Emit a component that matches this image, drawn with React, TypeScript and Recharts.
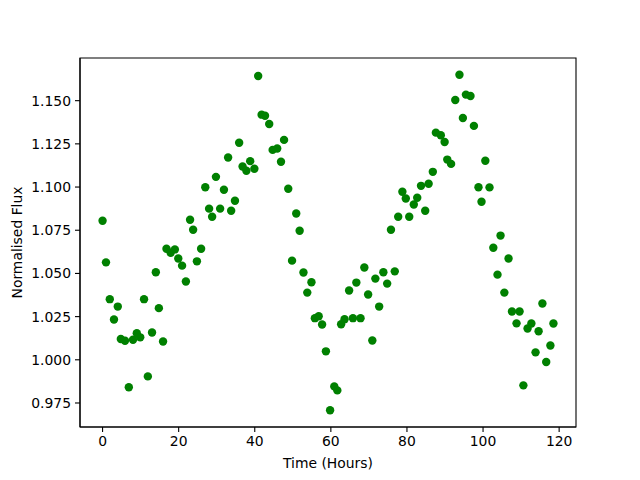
import React from 'react';
import { ScatterChart, Scatter, XAxis, YAxis, ReferenceArea, Label } from 'recharts';

const timeHours = [
  0.0, 0.9, 1.9, 3.0, 4.0, 4.8, 5.9, 6.9, 8.0, 9.0, 9.9, 10.9, 11.9, 13.0, 14.0, 14.8, 15.9, 16.8, 17.9, 19.0,
  19.9, 20.9, 21.9, 23.0, 23.8, 24.8, 25.9, 27.0, 28.0, 28.8, 29.8, 30.9, 31.9, 33.0, 33.8, 34.8, 35.9, 36.8, 37.8, 38.8,
  39.9, 40.9, 41.8, 42.7, 43.8, 44.7, 45.9, 46.9, 47.7, 48.8, 49.8, 50.9, 51.8, 52.8, 53.8, 54.9, 55.8, 56.8, 57.7, 58.7,
  59.8, 60.9, 61.7, 62.7, 63.6, 64.8, 65.8, 66.7, 67.8, 68.8, 69.8, 70.9, 71.7, 72.7, 73.8, 74.8, 75.8, 76.8, 77.7, 78.8,
  79.7, 80.6, 81.8, 82.7, 83.7, 84.8, 85.7, 86.8, 87.6, 88.9, 89.9, 90.6, 91.6, 92.7, 93.8, 94.7, 95.5, 96.7, 97.6, 98.8,
  99.6, 100.6, 101.7, 102.7, 103.8, 104.6, 105.6, 106.7, 107.6, 108.8, 109.6, 110.6, 111.7, 112.7, 113.8, 114.6, 115.6, 116.6, 117.7, 118.5,
];

const normalisedFlux = [
  1.0805, 1.0564, 1.0351, 1.0233, 1.0308, 1.0120, 1.0110, 0.9841, 1.0116, 1.0154, 1.0130, 1.0351, 0.9904, 1.0158, 1.0507, 1.0299, 1.0106, 1.0643, 1.0620, 1.0639,
  1.0586, 1.0545, 1.0453, 1.0811, 1.0753, 1.0570, 1.0643, 1.0999, 1.0875, 1.0828, 1.1059, 1.0875, 1.0984, 1.1171, 1.0863, 1.0921, 1.1256, 1.1119, 1.1094, 1.1150,
  1.1106, 1.1643, 1.1419, 1.1413, 1.1365, 1.1215, 1.1223, 1.1146, 1.1273, 1.0990, 1.0574, 1.0847, 1.0747, 1.0505, 1.0389, 1.0449, 1.0241, 1.0252, 1.0204, 1.0049,
  0.9708, 0.9846, 0.9823, 1.0206, 1.0235, 1.0401, 1.0241, 1.0447, 1.0241, 1.0534, 1.0378, 1.0112, 1.0470, 1.0308, 1.0507, 1.0441, 1.0753, 1.0512, 1.0828, 1.0973,
  1.0934, 1.0828, 1.0899, 1.0938, 1.1007, 1.0863, 1.1019, 1.1088, 1.1315, 1.1300, 1.1261, 1.1159, 1.1134, 1.1504, 1.1650, 1.1400, 1.1535, 1.1527, 1.1354, 1.0999,
  1.0915, 1.1152, 1.0998, 1.0649, 1.0493, 1.0719, 1.0389, 1.0586, 1.0280, 1.0211, 1.0280, 0.9852, 1.0181, 1.0210, 1.0043, 1.0165, 1.0326, 0.9987, 1.0083, 1.0210,
];

const xTicks = [0, 20, 40, 60, 80, 100, 120];
const yTicks = [0.975, 1.0, 1.025, 1.05, 1.075, 1.1, 1.125, 1.15];

const X_DOMAIN: [number, number] = [-5.93, 124.43];
const Y_DOMAIN: [number, number] = [0.9611, 1.1747];

const data = timeHours.map((t, i) => ({ t, flux: normalisedFlux[i] }));

const FONT = 'DejaVu Sans, sans-serif';

const Dot = (props: any) => {
  const { cx, cy } = props;
  if (cx == null || cy == null) return null;
  return <circle cx={cx} cy={cy} r={4.2} fill="#008000" />;
};

export default function App() {
  return (
    <div style={{ position: 'absolute', left: 0, top: 0, width: 640, height: 480, background: '#fff' }}>
      <ScatterChart width={640} height={480} margin={{ top: 58, right: 64, left: 0, bottom: 0 }}>
        <ReferenceArea
          x1={X_DOMAIN[0]}
          x2={X_DOMAIN[1]}
          y1={Y_DOMAIN[0]}
          y2={Y_DOMAIN[1]}
          fill="none"
          fillOpacity={0}
          stroke="#000"
          strokeWidth={1.1}
          ifOverflow="visible"
        />
        <XAxis
          type="number"
          dataKey="t"
          domain={X_DOMAIN}
          ticks={xTicks}
          allowDataOverflow
          height={53}
          tickSize={5}
          tickMargin={4}
          axisLine={{ stroke: '#000', strokeWidth: 1.1 }}
          tickLine={{ stroke: '#000', strokeWidth: 1.1 }}
          tick={{ fill: '#000', fontSize: 13.9, fontFamily: FONT }}
          interval={0}
        >
          <Label
            content={({ viewBox }: any) => (
              <text
                x={viewBox.x + viewBox.width / 2}
                y={468}
                textAnchor="middle"
                fontSize={13.9}
                fontFamily={FONT}
                fill="#000"
              >
                Time (Hours)
              </text>
            )}
          />
        </XAxis>
        <YAxis
          type="number"
          dataKey="flux"
          domain={Y_DOMAIN}
          ticks={yTicks}
          allowDataOverflow
          width={80}
          tickSize={5}
          tickMargin={4}
          axisLine={{ stroke: '#000', strokeWidth: 1.1 }}
          tickLine={{ stroke: '#000', strokeWidth: 1.1 }}
          tick={{ fill: '#000', fontSize: 13.9, fontFamily: FONT }}
          tickFormatter={(v: number) => v.toFixed(3)}
          interval={0}
        >
          <Label
            content={({ viewBox }: any) => {
              const cx = 17;
              const cy = viewBox.y + viewBox.height / 2;
              return (
                <text
                  x={cx}
                  y={cy}
                  transform={`rotate(-90 ${cx} ${cy})`}
                  textAnchor="middle"
                  dominantBaseline="central"
                  fontSize={13.9}
                  fontFamily={FONT}
                  fill="#000"
                >
                  Normalised Flux
                </text>
              );
            }}
          />
        </YAxis>
        <Scatter data={data} shape={<Dot />} isAnimationActive={false} />
      </ScatterChart>
    </div>
  );
}
